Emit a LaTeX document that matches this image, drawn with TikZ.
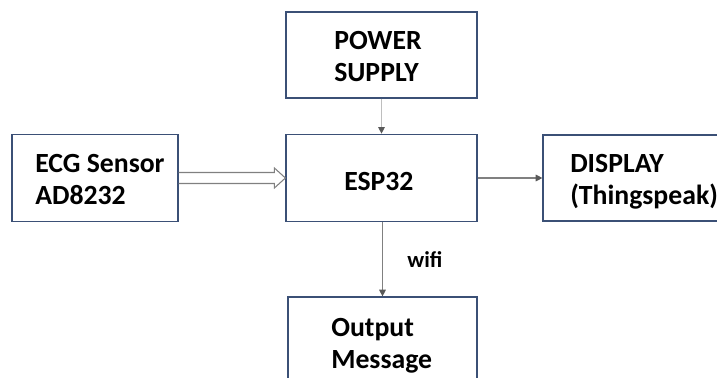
\documentclass[tikz,border=0pt]{standalone}
\usepackage{fontspec}
\setmainfont{Carlito}
\usepackage{tikz}
\usetikzlibrary{arrows.meta}
\usetikzlibrary{calc}
\definecolor{boxblue}{RGB}{59,80,118}
\definecolor{linegray}{RGB}{128,128,128}
\definecolor{palegray}{RGB}{190,190,190}
\definecolor{headgray}{RGB}{89,89,89}

\begin{document}
\begin{tikzpicture}[x=0.75pt,y=-0.75pt,
    block/.style={draw=boxblue,line width=0.9pt,rectangle,inner sep=0pt},
    blocktext/.style={font=\bfseries\fontsize{20.8}{24}\selectfont,align=left,inner sep=0pt,anchor=west},
    link/.style={draw=linegray,line width=0.8pt,-{Triangle[length=5pt,width=5pt,color=headgray]}},
    hollow/.style={draw=linegray,line width=0.8pt,line join=miter}]
  \useasboundingbox (0,0) rectangle (717,378);
  \clip (0,0) rectangle (717,378);
  % ECG sensor
  \node[block,minimum width=124.5pt,minimum height=65.25pt] (ecg) at (95,178) {};
  \node[blocktext] (ecgtext) at (35,180) {ECG Sensor\\AD8232};
  % power supply
  \node[block,minimum width=143.25pt,minimum height=64.5pt] (power) at (381.5,55) {};
  \node[blocktext] (powertext) at (334,57) {POWER\\SUPPLY};
  % ESP32
  \node[block,minimum width=143.25pt,minimum height=65.6pt] (esp) at (381.5,178) {};
  \node[blocktext] (esptext) at (344,181.5) {ESP32};
  % display
  \node[block,minimum width=150pt,minimum height=64.5pt] (disp) at (643,178) {};
  \node[blocktext] (disptext) at (570,182) {DISPLAY\\(Thingspeak)};
  % output message
  \node[block,minimum width=141.75pt,minimum height=66pt] (out) at (382.5,341) {};
  \node[blocktext] (outtext) at (331,346) {Output\\Message};
  % hollow arrow between ECG and ESP32
  \draw[hollow] ($(ecg.east)+(0,-5.5)$) -- ($(esp.west)+(-11,-5.5)$) -- ($(esp.west)+(-11,-10)$)
    -- (esp.west) -- ($(esp.west)+(-11,10)$) -- ($(esp.west)+(-11,5.5)$) -- ($(ecg.east)+(0,5.5)$);
  % line between power supply and ESP32
  \draw[link,draw=palegray] (power) -- (esp);
  % line between ESP32 and display
  \draw[link] (esp) -- (disp);
  % line between ESP32 and output
  \draw[link] (out.north |- esp.south) -- (out.north)
    node[midway,anchor=west,xshift=15pt,font=\bfseries\fontsize{17}{20}\selectfont] (wifi) {wifi};
\end{tikzpicture}
\end{document}
